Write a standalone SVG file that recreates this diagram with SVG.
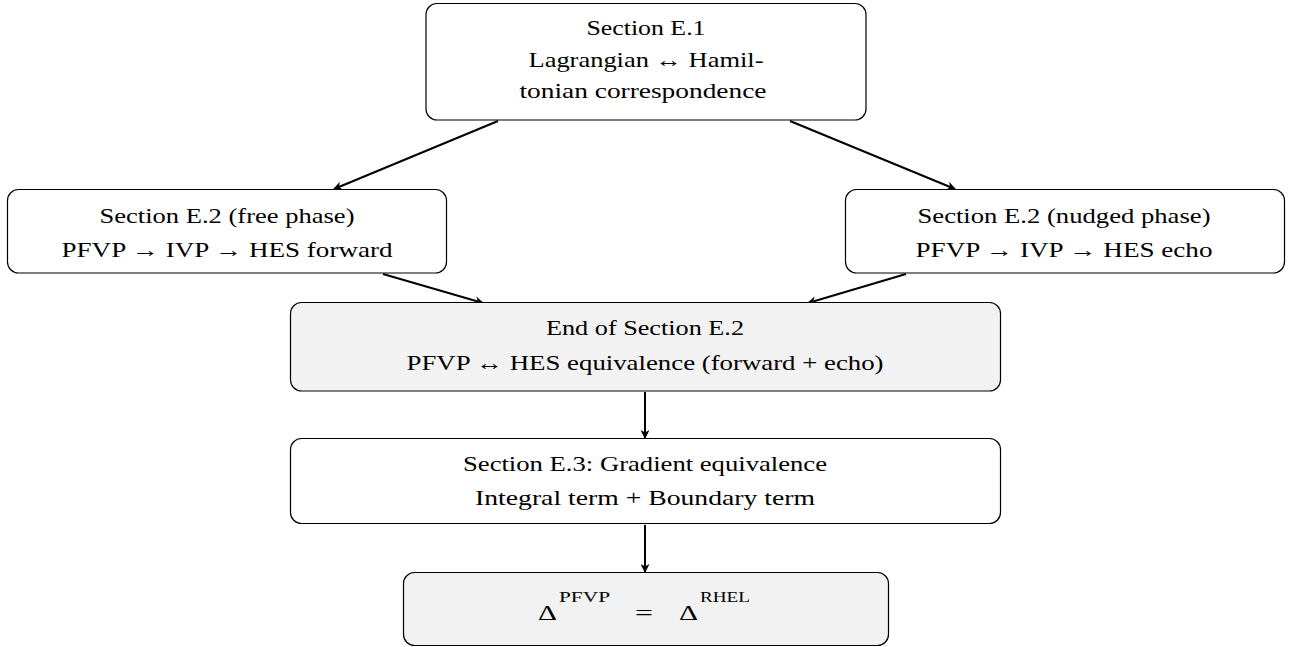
<svg xmlns="http://www.w3.org/2000/svg" width="1301" height="647" viewBox="0 0 1301 647">
<style>
.box{stroke:#000;stroke-width:1.2;fill:#fff}
.gray{fill:#f2f2f2}
text{font-family:"Liberation Serif","DejaVu Serif",serif;font-size:22px;fill:#000;text-anchor:middle}
.sup{font-size:14px;text-anchor:start}
.st{text-anchor:start}
.edge{stroke:#000;stroke-width:2;fill:none;marker-end:url(#ah)}
</style>
<defs>
<marker id="ah" viewBox="0 0 10 10" refX="9" refY="5" markerWidth="11" markerHeight="9" orient="auto" markerUnits="userSpaceOnUse">
<path d="M0,0 L10,5 L0,10 L3,5 Z" fill="#000"/>
</marker>
</defs>
<rect width="1301" height="647" fill="#fff"/>
<g id="connectors">
<line class="edge" x1="498" y1="121" x2="334" y2="189"/>
<line class="edge" x1="790" y1="121" x2="955" y2="189"/>
<line class="edge" x1="383" y1="274" x2="483" y2="303"/>
<line class="edge" x1="906" y1="274" x2="808" y2="303"/>
<line class="edge" x1="645" y1="392" x2="645" y2="438"/>
<line class="edge" x1="645" y1="525" x2="645" y2="572"/>
</g>
<g id="e1">
<rect class="box" x="426" y="3.5" width="440" height="116.5" rx="11"/>
<text x="646" y="35" textLength="119" lengthAdjust="spacingAndGlyphs">Section E.1</text>
<text x="646" y="67" textLength="235" lengthAdjust="spacingAndGlyphs">Lagrangian ↔ Hamil-</text>
<text x="643" y="98" textLength="247" lengthAdjust="spacingAndGlyphs">tonian correspondence</text>
</g>
<g id="e2free">
<rect class="box" x="7.5" y="189.5" width="439" height="83.5" rx="11"/>
<text x="227" y="223" textLength="255" lengthAdjust="spacingAndGlyphs">Section E.2 (free phase)</text>
<text x="227" y="257" textLength="331" lengthAdjust="spacingAndGlyphs">PFVP → IVP → HES forward</text>
</g>
<g id="e2nudged">
<rect class="box" x="845.5" y="189.5" width="439" height="83.5" rx="11"/>
<text x="1064" y="223" textLength="293" lengthAdjust="spacingAndGlyphs">Section E.2 (nudged phase)</text>
<text x="1064" y="257" textLength="297" lengthAdjust="spacingAndGlyphs">PFVP → IVP → HES echo</text>
</g>
<g id="e2end">
<rect class="box gray" x="290.5" y="302.5" width="710" height="88.5" rx="11"/>
<text x="645" y="335" textLength="198" lengthAdjust="spacingAndGlyphs">End of Section E.2</text>
<text x="645" y="370" textLength="477" lengthAdjust="spacingAndGlyphs">PFVP ↔ HES equivalence (forward + echo)</text>
</g>
<g id="e3">
<rect class="box" x="290.5" y="438.5" width="710" height="85" rx="11"/>
<text x="645" y="471" textLength="364" lengthAdjust="spacingAndGlyphs">Section E.3: Gradient equivalence</text>
<text x="645" y="505" textLength="340" lengthAdjust="spacingAndGlyphs">Integral term + Boundary term</text>
</g>
<g id="result">
<rect class="box gray" x="403.5" y="572.5" width="485" height="73" rx="11"/>
<text class="st" x="538" y="620" textLength="19" lengthAdjust="spacingAndGlyphs">Δ</text>
<text class="sup" x="559" y="602" textLength="51" lengthAdjust="spacingAndGlyphs">PFVP</text>
<text class="st" x="635" y="620" textLength="18" lengthAdjust="spacingAndGlyphs">=</text>
<text class="st" x="679" y="620" textLength="19" lengthAdjust="spacingAndGlyphs">Δ</text>
<text class="sup" x="700" y="602" textLength="50" lengthAdjust="spacingAndGlyphs">RHEL</text>
</g>
</svg>
